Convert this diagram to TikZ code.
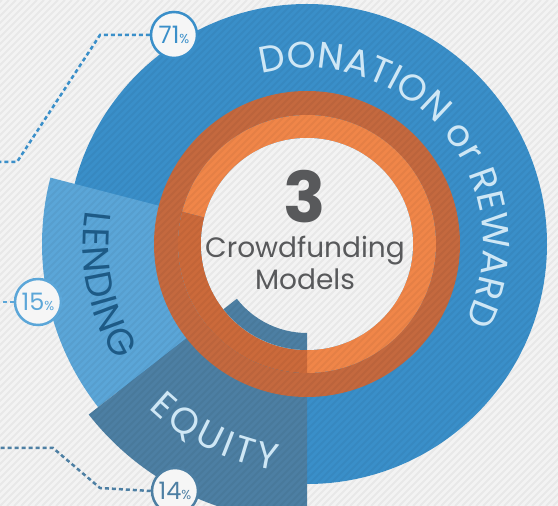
\documentclass[tikz,border=0pt]{standalone}
\usepackage{fontspec}
\setmainfont{Poppins}
\usetikzlibrary{decorations.text}
\definecolor{bgc}{HTML}{F3F3F3}
\definecolor{donc}{HTML}{3A8FC9}
\definecolor{lendc}{HTML}{5BA6D8}
\definecolor{eqc}{HTML}{4D7FA3}
\definecolor{orgdark}{HTML}{C4693F}
\definecolor{orglight}{HTML}{F08649}
\definecolor{orgmid}{HTML}{CB6A3B}
\definecolor{txtlight}{HTML}{CFE7F5}
\definecolor{lendtxt}{HTML}{1D5A86}
\definecolor{greytxt}{HTML}{58595B}
\definecolor{pctfill}{HTML}{F6F6F6}
\newcommand\annsec[5]{\fill[#1] ([shift={(307,262)}]#2:#5pt) arc[start angle=#2,end angle=#3,radius=#5pt] -- ([shift={(307,262)}]#3:#4pt) arc[start angle=#3,end angle=#2,radius=#4pt] -- cycle;}
\begin{document}
\begin{tikzpicture}[x=1pt,y=1pt,
  pct/.style={circle, draw, line width=2.5pt, fill=pctfill, minimum size=46pt, inner sep=0pt},
  conn/.style={line width=2.5pt, dash pattern=on 4pt off 3pt},
  stripe/.style={line width=2pt, black, opacity=0.045}]
\useasboundingbox (0,0) rectangle (558,506);
\clip (0,0) rectangle (558,506);
\fill[bgc] (0,0) rectangle (558,506);
\coordinate (C) at (307,262);
% donation disc
\fill[donc] (C) circle[radius=240pt];
% lending and equity sectors
\annsec{lendc}{165.5}{218}{106}{265}
\annsec{eqc}{218}{270}{106}{277}
% orange rings
\annsec{orgdark}{-90}{270}{129}{153}
\annsec{orglight}{-90}{165.5}{106}{129}
\annsec{orgmid}{165.5}{270}{106}{129}
% inner disc
\fill[bgc] (C) circle[radius=106pt];
\annsec{eqc}{218}{270}{89}{106}
% stripes
\foreach \k in {-511,-504,...,560} \draw[stripe] (\k,0) -- ++(506,506);
% curved labels
\path[decorate, decoration={text along path, text align=fit to path,
  text={|\color{txtlight}\fontsize{37}{37}\selectfont|DONATION or REWARD}}]
  ([shift={(307,262)}]105:176pt) arc[start angle=105, end angle=-26, radius=176pt];
\path[decorate, decoration={text along path, text align=fit to path,
  text={|\color{lendtxt}\fontsize{37}{37}\selectfont|LENDING}}]
  ([shift={(307,262)}]171.5:224pt) arc[start angle=171.5, end angle=211.5, radius=224pt];
\path[decorate, decoration={text along path, text align=fit to path,
  text={|\color{txtlight}\fontsize{37}{37}\selectfont|EQUITY}}]
  ([shift={(307,262)}]226:228pt) arc[start angle=226, end angle=262, radius=228pt];
% centre text
\node[anchor=base, text=greytxt, inner sep=0pt] (three) at (305,283) {\fontsize{70}{70}\selectfont\bfseries 3};
\node[anchor=base, text=greytxt, inner sep=0pt] (crowd) at (305,248) {\fontsize{28}{28}\selectfont Crowdfunding};
\node[anchor=base, text=greytxt, inner sep=0pt] (models) at (305,216) {\fontsize{28}{28}\selectfont Models};
% percentage badges
\node[pct, draw=donc, text=donc] (p71) at (174,471) {{\fontsize{24}{24}\selectfont 71}{\fontsize{13}{13}\selectfont\%}};
\node[pct, draw=lendc, text=lendc] (p15) at (38,204) {{\fontsize{24}{24}\selectfont 15}{\fontsize{13}{13}\selectfont\%}};
\node[pct, draw=eqc, text=eqc] (p14) at (175,15) {{\fontsize{24}{24}\selectfont 14}{\fontsize{13}{13}\selectfont\%}};
% connectors
\coordinate (b71a) at (100,471);
\coordinate (b71b) at (17,344);
\coordinate (e71) at (0,344);
\coordinate (e15) at (0,204);
\coordinate (b14a) at (100,18);
\coordinate (b14b) at (53,58);
\coordinate (e14) at (0,58);
\draw[conn, donc] (p71.west) -- (b71a) -- (b71b) -- (e71);
\draw[conn, lendc] (p15.west) -- (e15);
\draw[conn, eqc] (p14.west) -- (b14a) -- (b14b) -- (e14);
\end{tikzpicture}
\end{document}
